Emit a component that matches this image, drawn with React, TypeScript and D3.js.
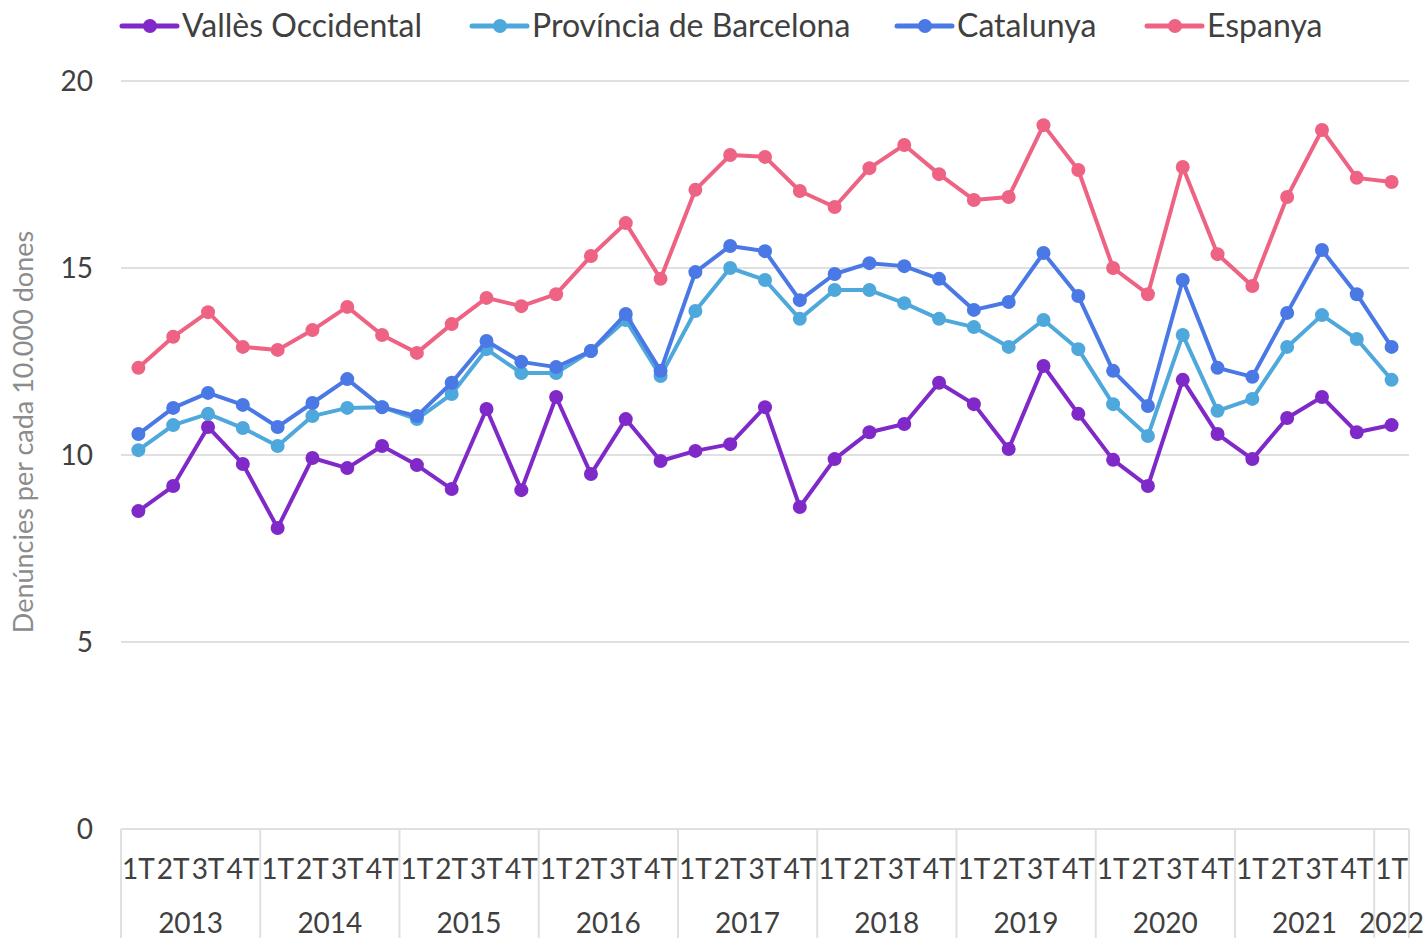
import React from 'react';
import * as d3 from 'd3';

const years = ['2013', '2014', '2015', '2016', '2017', '2018', '2019', '2020', '2021', '2022'];
const quarterNames = ['1T', '2T', '3T', '4T'];
// 2013 1T .. 2022 1T
const quarters = years.flatMap(y => (y === '2022' ? ['1T'] : quarterNames).map(q => ({ year: y, q })));

const valles = [8.50, 9.17, 10.75, 9.76, 8.05, 9.92, 9.65, 10.24, 9.73, 9.09, 11.23, 9.06, 11.55, 9.49, 10.96, 9.84,
  10.11, 10.29, 11.28, 8.61, 9.89, 10.61, 10.83, 11.93, 11.36, 10.16, 12.38, 11.10, 9.87, 9.17, 12.01, 10.56,
  9.89, 10.99, 11.55, 10.61, 10.80];
const provincia = [10.13, 10.80, 11.10, 10.72, 10.24, 11.04, 11.26, 11.28, 10.96, 11.63, 12.83, 12.19, 12.19, 12.78, 13.61, 12.11,
  13.85, 15.00, 14.68, 13.64, 14.41, 14.41, 14.06, 13.64, 13.42, 12.89, 13.61, 12.83, 11.36, 10.51, 13.21, 11.18,
  11.50, 12.89, 13.74, 13.10, 12.01];
const catalunya = [10.56, 11.26, 11.66, 11.34, 10.75, 11.39, 12.03, 11.28, 11.04, 11.93, 13.05, 12.49, 12.35, 12.78, 13.77, 12.25,
  14.89, 15.59, 15.45, 14.14, 14.84, 15.13, 15.05, 14.71, 13.88, 14.09, 15.40, 14.25, 12.25, 11.31, 14.68, 12.33,
  12.09, 13.80, 15.48, 14.30, 12.89];
const espanya = [12.33, 13.16, 13.82, 12.89, 12.81, 13.34, 13.96, 13.21, 12.73, 13.50, 14.20, 13.98, 14.30, 15.32, 16.20, 14.71,
  17.09, 18.02, 17.97, 17.06, 16.63, 17.67, 18.29, 17.51, 16.82, 16.90, 18.82, 17.62, 15.00, 14.30, 17.70, 15.37,
  14.52, 16.90, 18.69, 17.41, 17.30];

const series = [
  { name: 'Vallès Occidental', color: '#8029c9', values: valles },
  { name: 'Província de Barcelona', color: '#4fa8dc', values: provincia },
  { name: 'Catalunya', color: '#4a78e5', values: catalunya },
  { name: 'Espanya', color: '#ee6384', values: espanya },
];
const legendX = [122, 472, 897, 1147];
const yTicks = [0, 5, 10, 15, 20];

const W = 1427;
const H = 938;
const FONT = 'Lato, "Open Sans", sans-serif';

export default function App() {
  const x = d3.scaleBand<number>().domain(d3.range(quarters.length)).range([121, 1409]).padding(0);
  const cx = (i: number) => (x(i) as number) + x.bandwidth() / 2;
  const y = d3.scaleLinear().domain([0, 20]).range([829, 81]);
  const line = d3.line<number>().x((_, i) => cx(i)).y(d => y(d));

  // year boundaries
  const yearStarts = years.map(yr => quarters.findIndex(q => q.year === yr));
  const yearEnds = years.map((yr, k) => (k < years.length - 1 ? yearStarts[k + 1] : quarters.length));

  return (
    <svg width={W} height={H} style={{ position: 'absolute', left: 0, top: 0, background: '#fff' }} fontFamily={FONT}>
      {/* gridlines */}
      {yTicks.map(t => (
        <g key={t}>
          <line x1={121} x2={1409} y1={y(t)} y2={y(t)} stroke="#e0e0e0" strokeWidth={2} />
          <text x={93} y={y(t) + 10} textAnchor="end" fontSize={28} fill="#404040">{t}</text>
        </g>
      ))}
      {/* y title */}
      <text transform={`translate(33,432) rotate(-90)`} textAnchor="middle" fontSize={27} fill="#8c8c8c">
        Denúncies per cada 10.000 dones
      </text>
      {/* category axis */}
      {yearStarts.map((s, k) => (
        <line key={'s' + k} x1={x(s) as number} x2={x(s) as number} y1={829} y2={H} stroke="#e0e0e0" strokeWidth={2} />
      ))}
      <line x1={1409} x2={1409} y1={829} y2={H} stroke="#e0e0e0" strokeWidth={2} />
      {quarters.map((q, i) => (
        <text key={'q' + i} x={cx(i)} y={879} textAnchor="middle" fontSize={28} fill="#404040">{q.q}</text>
      ))}
      {years.map((yr, k) => {
        const mid = ((x(yearStarts[k]) as number) + (yearEnds[k] < quarters.length ? (x(yearEnds[k]) as number) : 1409)) / 2;
        return (
          <text key={yr} x={mid} y={933} textAnchor="middle" fontSize={28} fill="#404040">{yr}</text>
        );
      })}
      {/* series */}
      {series.map(s => (
        <g key={s.name}>
          <path d={line(s.values) || ''} fill="none" stroke={s.color} strokeWidth={4} strokeLinejoin="round" />
          {s.values.map((v, i) => (
            <circle key={i} cx={cx(i)} cy={y(v)} r={7} fill={s.color} />
          ))}
        </g>
      ))}
      {/* legend */}
      {series.map((s, k) => (
        <g key={'l' + k} transform={`translate(${legendX[k]},26)`}>
          <line x1={0} x2={55} y1={0} y2={0} stroke={s.color} strokeWidth={5} strokeLinecap="round" />
          <circle cx={28} cy={0} r={7} fill={s.color} />
          <text x={60} y={11} fontSize={32} fill="#404040">{s.name}</text>
        </g>
      ))}
    </svg>
  );
}
